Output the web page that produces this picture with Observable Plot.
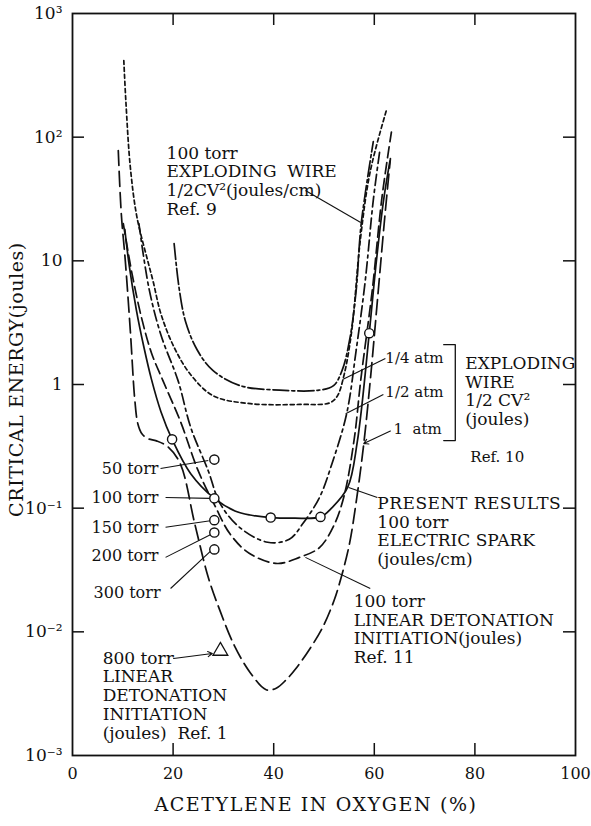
<!DOCTYPE html>
<html><head><meta charset="utf-8">
<script src="https://cdn.jsdelivr.net/npm/d3@7"></script>
<script src="https://cdn.jsdelivr.net/npm/@observablehq/plot@0.6"></script>
<style>
body{margin:0;background:#fff}
#chart svg{font-family:"DejaVu Serif",serif;background:#fff}
</style>
</head><body><div id="chart"></div>
<script>
// ---- axes ----
const xTickValues = [0, 20, 40, 60, 80, 100];
const xInnerTicks = [20, 40, 60, 80];
const yTickValues = [1e-3, 1e-2, 1e-1, 1, 10, 100, 1000];
const yTickLabels = ["10⁻³", "10⁻²", "10⁻¹", "1", "10", "10²", "10³"];
const yInnerTicks = [1e-2, 1e-1, 1, 10, 100];
const xTitle = "ACETYLENE IN OXYGEN (%)";
const yTitle = "CRITICAL ENERGY(joules)";

// ---- curves (acetylene %, critical energy J) ----
const presentX = [10.4, 11.3, 12.7, 14.2, 15.7, 17.6, 19.8, 23.5, 28.2, 32.3, 35.3, 39.4, 44.1, 49.3, 51.5, 54.7, 56.6, 59.0, 60.3, 61.8, 63.1];
const presentY = [18, 9, 4, 2, 1.1, 0.6, 0.36, 0.19, 0.12, 0.095, 0.088, 0.084, 0.083, 0.085, 0.1, 0.147, 0.34, 2.6, 9, 30, 64];

const ref9X = [10.2, 10.6, 11.5, 12.8, 14.9, 16.0, 17.6, 20.2, 23.5, 28.0, 35.4, 45.2, 51.1, 52.6, 54.0, 55.5, 57.2, 59.2, 62.5];
const ref9Y = [417, 198, 57, 22.7, 10.2, 6.9, 3.7, 2.0, 1.2, 0.81, 0.70, 0.69, 0.71, 0.8, 1.2, 2.7, 14.5, 53, 170];

const quarterX = [20.2, 21.2, 22.5, 24.8, 27.9, 33.3, 41.2, 49.0, 51.9, 53.6, 55.1, 56.4, 57.4, 59.8];
const quarterY = [13.8, 6, 3.2, 1.9, 1.3, 0.98, 0.9, 0.9, 0.98, 1.3, 2.3, 5.8, 20, 92];

const halfX = [13.2, 15.2, 17.6, 21.0, 23.5, 27.0, 29.3, 33.2, 38.8, 43.1, 45.8, 49.1, 51.6, 54.5, 56.4, 58.2, 59.8, 61.1];
const halfY = [20, 6, 2.5, 1.07, 0.45, 0.2, 0.11, 0.07, 0.053, 0.056, 0.075, 0.122, 0.23, 0.58, 1.9, 6.9, 31, 78];

const ref11X = [10.1, 11.8, 13.7, 15.7, 18.0, 21.4, 25.0, 28.3, 31.3, 35.2, 40.7, 45.1, 49.1, 52.0, 54.0, 56.0, 57.3, 59.6, 61.5, 63.4];
const ref11Y = [20, 8, 3.5, 1.8, 1.07, 0.51, 0.2, 0.105, 0.062, 0.043, 0.0357, 0.04, 0.048, 0.073, 0.126, 0.36, 1.08, 5.8, 32, 110];

const oneAtmX = [9.1, 9.7, 10.5, 11.5, 12.4, 13.0, 13.8, 15.0, 16.7, 18.9, 21.4, 24.3, 27.0, 29.3, 32.2, 35.3, 38.5, 40.5, 42.5, 44.5, 47.0, 49.7, 52.0, 53.0, 55.0, 56.5, 57.9, 59.2, 60.8, 62.1, 63.2];
const oneAtmY = [78, 24, 10, 2.7, 0.74, 0.48, 0.40, 0.365, 0.35, 0.315, 0.23, 0.075, 0.0275, 0.0149, 0.0077, 0.0047, 0.0034, 0.0035, 0.0041, 0.0051, 0.0071, 0.0108, 0.0179, 0.024, 0.05, 0.12, 0.33, 1.08, 5.8, 23, 67];

// ---- measured points ----
const circleX = [19.8, 28.2, 39.4, 49.3, 59.0, 28.2, 28.2, 28.2, 28.2];
const circleY = [0.36, 0.12, 0.084, 0.085, 2.6, 0.247, 0.080, 0.0635, 0.0464];
const triangleX = [29.4];
const triangleY = [0.0070];

// ---- annotations ----
const noteText = [
  "100 torr\nEXPLODING  WIRE\n1/2CV²(joules/cm)\nRef. 9",
  "EXPLODING\nWIRE\n1/2 CV²\n(joules)",
  "PRESENT RESULTS\n100 torr\nELECTRIC SPARK\n(joules/cm)",
  "100 torr\nLINEAR DETONATION\nINITIATION(joules)\nRef. 11",
  "800 torr\nLINEAR\nDETONATION\nINITIATION\n(joules)  Ref. 1"
];
const noteX = [18.7, 78.1, 60.6, 55.9, 6.0];
const noteY = [85.7, 1.71, 0.1265, 0.0204, 0.00706];

const atmText = ["1/4 atm", "1/2 atm", "1  atm", "Ref. 10"];
const atmX = [62.2, 62.2, 63.8, 79.1];
const atmY = [1.62, 0.86, 0.432, 0.257];

const torrText = ["50 torr", "100 torr", "150 torr", "200 torr", "300 torr"];
const torrX = [17.1, 17.1, 17.1, 17.1, 17.5];
const torrY = [0.209, 0.122, 0.0698, 0.0414, 0.0208];

// leader lines: start -> end
const leadX1 = [46.3, 62.2, 61.8, 60.6, 59.2, 17.5, 18.5, 18.5, 18.5, 19.5];
const leadY1 = [37.1, 1.62, 0.83, 0.122, 0.0224, 0.209, 0.122, 0.070, 0.040, 0.0224];
const leadX2 = [57.3, 53.7, 54.3, 54.9, 46.3, 27.0, 27.4, 27.4, 27.4, 27.4];
const leadY2 = [20.4, 1.10, 0.58, 0.147, 0.040, 0.243, 0.12, 0.079, 0.061, 0.0447];
// arrows
const arrowX1 = [63.2, 20.1];
const arrowY1 = [0.42, 0.00608];
const arrowX2 = [57.9, 27.8];
const arrowY2 = [0.333, 0.00668];
// bracket for Ref. 10
const bracketX = [73.8, 76.1, 76.1, 73.8];
const bracketY = [2.1, 2.1, 0.352, 0.352];

const zip = (xs, ys) => xs.map((x, i) => ({x, y: ys[i]}));
const series = [
  {name: "present", xs: presentX, ys: presentY, dash: null},
  {name: "ref9", xs: ref9X, ys: ref9Y, dash: "4,3"},
  {name: "quarter", xs: quarterX, ys: quarterY, dash: "16,3,3,3"},
  {name: "half", xs: halfX, ys: halfY, dash: "11,4,3,4"},
  {name: "ref11", xs: ref11X, ys: ref11Y, dash: "11,5"},
  {name: "oneatm", xs: oneAtmX, ys: oneAtmY, dash: "15,6"}
];

const PW = 591 - 72 - 16, PH = 826 - 13 - 71;
const marks = [];
for (const s of series) {
  marks.push(Plot.line(zip(s.xs, s.ys), {x: "x", y: "y", curve: "catmull-rom", stroke: "#111", strokeWidth: 1.7, strokeDasharray: s.dash}));
}
marks.push(
  Plot.link(leadX1.map((x, i) => ({x1: x, y1: leadY1[i], x2: leadX2[i], y2: leadY2[i]})), {x1: "x1", y1: "y1", x2: "x2", y2: "y2", stroke: "#111", strokeWidth: 1.1}),
  Plot.arrow(arrowX1.map((x, i) => ({x1: x, y1: arrowY1[i], x2: arrowX2[i], y2: arrowY2[i]})), {x1: "x1", y1: "y1", x2: "x2", y2: "y2", stroke: "#111", strokeWidth: 1.1, headLength: 7}),
  Plot.line(zip(bracketX, bracketY), {x: "x", y: "y", stroke: "#111", strokeWidth: 1.3}),
  Plot.dot(zip(circleX, circleY), {x: "x", y: "y", r: 4.6, fill: "white", stroke: "#111", strokeWidth: 1.4}),
  Plot.dot(zip(triangleX, triangleY), {x: "x", y: "y", r: 5.5, symbol: "triangle", fill: "white", stroke: "#111", strokeWidth: 1.3}),
  Plot.text(noteText.map((t, i) => ({t, x: noteX[i], y: noteY[i]})), {x: "x", y: "y", text: "t", textAnchor: "start", lineAnchor: "top", fontSize: 17, lineHeight: 1.1, fill: "#111"}),
  Plot.text(atmText.map((t, i) => ({t, x: atmX[i], y: atmY[i]})), {x: "x", y: "y", text: "t", textAnchor: "start", lineAnchor: "middle", fontSize: 15, fill: "#111"}),
  Plot.text(torrText.map((t, i) => ({t, x: torrX[i], y: torrY[i]})), {x: "x", y: "y", text: "t", textAnchor: "end", lineAnchor: "middle", fontSize: 16, fill: "#111"}),
  // inward tick marks
  Plot.tickX(xInnerTicks, {x: d => d, insetTop: PH - 12, stroke: "#111", strokeWidth: 1.5}),
  Plot.tickX(xInnerTicks, {x: d => d, insetBottom: PH - 12, stroke: "#111", strokeWidth: 1.5}),
  Plot.tickY(yInnerTicks, {y: d => d, insetRight: PW - 12, stroke: "#111", strokeWidth: 1.5}),
  Plot.tickY(yInnerTicks, {y: d => d, insetLeft: PW - 12, stroke: "#111", strokeWidth: 1.5}),
  Plot.frame({stroke: "#111", strokeWidth: 1.8}),
  Plot.axisX({ticks: xTickValues, tickSize: 0, tickPadding: 12, fontSize: 16, label: null, tickFormat: d => String(d)}),
  Plot.axisY({ticks: yTickValues, tickSize: 0, tickPadding: 10, fontSize: 17, label: null, tickFormat: d => yTickLabels[yTickValues.indexOf(d)]}),
  Plot.text([xTitle], {frameAnchor: "bottom", textAnchor: "middle", dy: 55, dx: -8, fontSize: 19, fill: "#111"}),
  Plot.text([yTitle], {frameAnchor: "left", textAnchor: "middle", rotate: -90, dx: -56, dy: -5, fontSize: 19, fill: "#111"})
);

const chart = Plot.plot({
  width: 591, height: 826,
  marginLeft: 72, marginRight: 16, marginTop: 13, marginBottom: 71,
  style: {fontFamily: "DejaVu Serif, serif", color: "#111", background: "white", overflow: "visible"},
  x: {domain: [0, 100]},
  y: {type: "log", domain: [1e-3, 1e3]},
  marks
});
// letter spacing of the scanned lettering
d3.select(chart).selectAll("text").each(function () {
  const t = this.textContent;
  if (t === xTitle) this.setAttribute("letter-spacing", "1.6px");
  else if (t === yTitle) this.setAttribute("letter-spacing", "0.6px");
});
d3.select(chart).selectAll("tspan").each(function () {
  if (this.textContent === "PRESENT RESULTS") this.setAttribute("letter-spacing", "0.5px");
});
document.getElementById("chart").appendChild(chart);
</script>
</body></html>
